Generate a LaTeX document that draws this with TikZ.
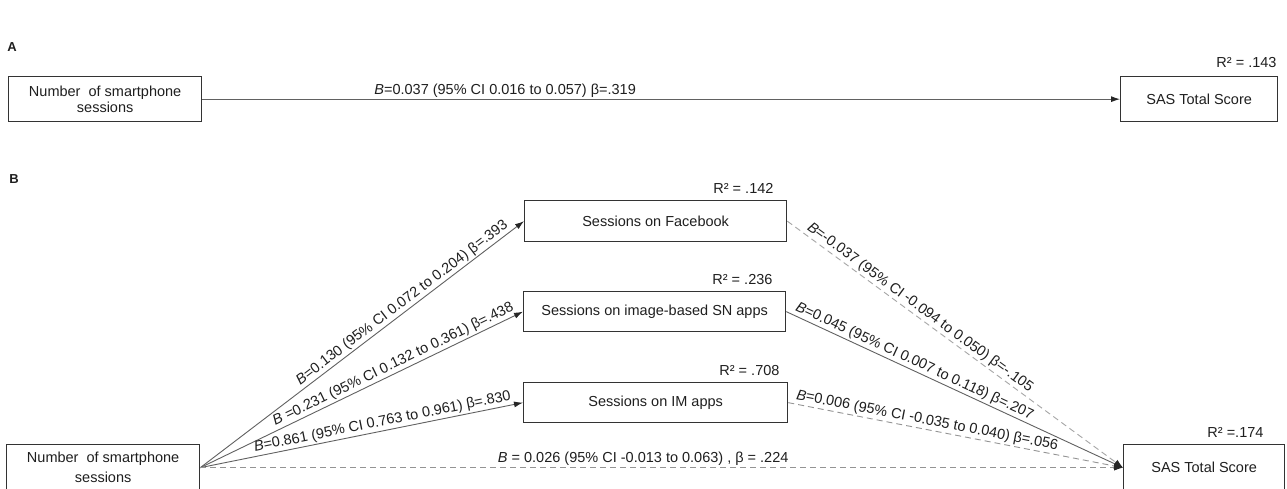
\documentclass[tikz,border=0pt]{standalone}
\usepackage{fontspec}
\setmainfont{Liberation Sans}
\usetikzlibrary{arrows.meta}
\begin{document}
\begin{tikzpicture}[x=1pt,y=-1pt,
  font=\fontsize{14.5}{17}\selectfont,
  box/.style={draw=black!80, line width=1.3pt, rectangle, anchor=north west, inner sep=0pt, align=center, text=black!88},
  conn/.style={line width=0.9pt, draw=black!62, -{Latex[length=9pt,width=6pt,color=black!85]}},
  dconn/.style={conn, draw=black!42, dash pattern=on 6pt off 4pt},
  lab/.style={sloped, above, inner sep=1.5pt, text=black!88},
  rsq/.style={anchor=base east, text=black!88},
  panel/.style={font=\fontsize{13}{15}\selectfont\bfseries, text=black!88}]
\clip (0,0) rectangle (1287,488);
\fill[white] (0,0) rectangle (1287,488);

% Panel A
\node[panel] (pa) at (12,47) {A};
\node[box, minimum width=193pt, minimum height=45pt] (a1) at (8,76) {Number\ \ of smartphone\\[-1pt]sessions};
\node[box, minimum width=157pt, minimum height=45pt] (a2) at (1120,76) {SAS Total Score};
\draw[conn] (a1.east) -- node[lab, pos=0.33] {\textit{B}=0.037 (95\% CI 0.016 to 0.057) β=.319} (a2.west);
\node[rsq] (ra) at (1280,67) {R² = .143};

% Panel B
\node[panel] (pb) at (14,179) {B};
\node[box, minimum width=193pt, minimum height=46pt] (src) at (6,444) {Number\ \ of smartphone\\[3pt]sessions};
\node[box, minimum width=262pt, minimum height=41pt] (fb) at (524,200) {Sessions on Facebook};
\node[box, minimum width=262pt, minimum height=40pt] (img) at (523,291) {Sessions on image-based SN apps};
\node[box, minimum width=264pt, minimum height=40pt] (im) at (523,382) {Sessions on IM apps};
\node[box, minimum width=161pt, minimum height=46pt] (sas) at (1123,444) {SAS Total Score};

\node[rsq] (rfb) at (777,193) {R² = .142};
\node[rsq] (rimg) at (776,284) {R² = .236};
\node[rsq] (rim) at (783,375) {R² = .708};
\node[rsq] (rsas) at (1267,437) {R² =.174};

\draw[conn] (src.east) -- node[lab, pos=0.64] {\textit{B}=0.130 (95\% CI 0.072 to 0.204) β=.393} (fb.west);
\draw[conn] (src.east) -- node[lab, pos=0.61] {\textit{B} =0.231 (95\% CI 0.132 to 0.361) β=.438} (img.west);
\draw[conn] (src.east) -- node[lab, pos=0.57] {\textit{B}=0.861 (95\% CI 0.763 to 0.961) β=.830} (im.west);
\draw[dconn] (src.east) -- node[lab, pos=0.48] {\textit{B} = 0.026 (95\% CI -0.013 to 0.063) , β = .224} (sas.west);

\draw[dconn, draw=black!35] (fb.east) -- node[lab, pos=0.38] {\textit{B}=-0.037 (95\% CI -0.094 to 0.050) β=-.105} (sas.west);
\draw[conn] (img.east) -- node[lab, pos=0.37] {\textit{B}=0.045 (95\% CI 0.007 to 0.118) β=.207} (sas.west);
\draw[dconn] (im.east) -- node[lab, pos=0.41] {\textit{B}=0.006 (95\% CI -0.035 to 0.040) β=.056} (sas.west);
\end{tikzpicture}
\end{document}
